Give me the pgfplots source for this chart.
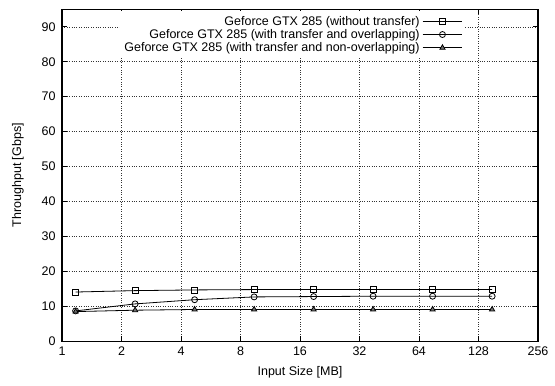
\documentclass[border=0pt]{standalone}
\usepackage{fontspec}
\setmainfont{Liberation Sans}
\usepackage{pgfplots}
\pgfplotsset{compat=1.18}
\begin{document}
\begin{tikzpicture}
\begin{axis}[
  name=ax,
  at={(0,0)}, anchor=south west,
  scale only axis,
  width=476pt, height=332pt,
  font=\fontsize{12.5pt}{14.5pt}\selectfont,
  /pgf/number format/assume math mode=true,
  xmode=log, log basis x=2,
  xmin=1, xmax=256,
  xtick={1,2,4,8,16,32,64,128,256},
  xticklabels={1,2,4,8,16,32,64,128,256},
  ymin=0, ymax=95,
  ytick={0,10,...,90},
  grid=major,
  grid style={dotted, black!80, line width=0.5pt},
  axis line style={line width=1.1pt},
  major tick style={line width=0.8pt, black},
  major tick length=5pt,
  minor tick num=0,
  xlabel={Input Size [MB]},
  ylabel={Throughput [Gbps]},
  xlabel style={at={(axis description cs:0.5,-0.0925)}, anchor=center},
  ylabel style={at={(axis description cs:-0.0924,0.5)}, anchor=center},
  yticklabel style={xshift=-3pt},
  xticklabel style={yshift=-2pt},
  legend style={at={(axis description cs:0.8466,0.994)}, anchor=north east,
    draw=none, fill=white, font=\fontsize{12.5pt}{14.5pt}\selectfont,
    row sep=-2.3pt, inner sep=2pt,
    nodes={inner sep=2.5pt}},
  legend cell align=right,
  legend plot pos=right,
  legend image code/.code={\draw[mark repeat=2,mark phase=2] plot coordinates {(0cm,0cm)(0.7cm,0cm)(1.4cm,0cm)};},
]
\addplot[black, line width=0.8pt, mark=square, mark size=3pt, mark options={solid, line width=0.8pt, fill=white}] coordinates {
 (1.171875,14.1) (2.34375,14.5) (4.6875,14.7) (9.375,14.8) (18.75,14.8) (37.5,14.8) (75,14.8) (150,14.8)};
\addlegendentry{Geforce GTX 285 (without transfer)}
\addplot[black, line width=0.8pt, mark=o, mark size=3pt, mark options={solid, line width=0.8pt, fill=white}] coordinates {
 (1.171875,8.7) (2.34375,10.7) (4.6875,11.9) (9.375,12.7) (18.75,12.8) (37.5,12.9) (75,12.9) (150,12.9)};
\addlegendentry{Geforce GTX 285 (with transfer and overlapping)}
\addplot[black, line width=0.8pt, mark=triangle*, mark size=3pt, mark options={solid, line width=0.8pt, fill=black!55}] coordinates {
 (1.171875,8.5) (2.34375,8.9) (4.6875,9.1) (9.375,9.1) (18.75,9.1) (37.5,9.1) (75,9.1) (150,9.1)};
\addlegendentry{Geforce GTX 285 (with transfer and non-overlapping)}
\end{axis}
\pgfresetboundingbox
\path ([shift={(-62pt,-44pt)}]ax.south west) rectangle ([shift={(17pt,9.3pt)}]ax.north east);
\end{tikzpicture}
\end{document}
